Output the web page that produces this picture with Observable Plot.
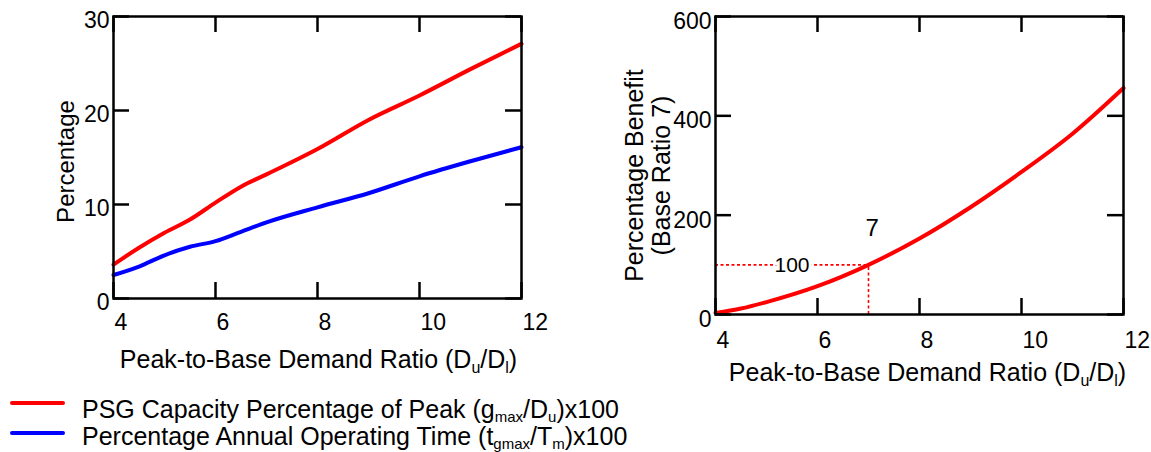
<!DOCTYPE html>
<html>
<head>
<meta charset="utf-8">
<script src="https://cdn.jsdelivr.net/npm/d3@7"></script>
<script src="https://cdn.jsdelivr.net/npm/@observablehq/plot@0.6"></script>
<style>
  html, body { margin: 0; padding: 0; background: #fff; }
  #root { position: relative; width: 1151px; height: 452px; overflow: hidden; font-family: 'Liberation Sans', Arial, Helvetica, sans-serif; }
  .panel { position: absolute; top: 0; }
  .legend { position: absolute; left: 0; top: 0; font-size: 25px; line-height: 24px; color: #000; }
  .legend .sw { position: absolute; left: 10px; width: 55px; height: 4px; border-radius: 2px; }
  .legend .lab { position: absolute; left: 82px; white-space: nowrap; }
  .legend sub { font-size: 15px; vertical-align: -4px; line-height: 0; }
</style>
</head>
<body>
<div id="root">
  <div id="left" class="panel" style="left:0px"></div>
  <div id="right" class="panel" style="left:580px"></div>
  <div class="legend" id="legend"></div>
</div>
<script>
// ---- Data ----
const ratioLeft = [4, 4.5, 5, 5.5, 6, 6.5, 7, 8, 9, 10, 11, 12];
const psgCapacity = [3.6, 5.4, 7.0, 8.4, 10.2, 11.9, 13.2, 15.9, 19.0, 21.6, 24.4, 27.1];
const operatingTime = [2.5, 3.4, 4.6, 5.5, 6.1, 7.1, 8.1, 9.7, 11.2, 13.0, 14.6, 16.1];

const ratioRight = [4, 4.5, 5, 6, 7, 8, 9, 10, 11, 12];
const benefit = [3, 12, 25, 57, 100, 153, 216, 287, 364, 456];

const xTicks = [4, 6, 8, 10, 12];
const yTicksLeft = [0, 10, 20, 30];
const yTicksRight = [0, 200, 400, 600];

const seriesNames = [
  "PSG Capacity Percentage of Peak (g_max/D_u)x100",
  "Percentage Annual Operating Time (t_gmax/T_m)x100"
];
const seriesColors = ["#ff0000", "#0000ff"];

const xLabel = "Peak-to-Base Demand Ratio (D_u/D_l)";
const yLabelLeft = "Percentage";
const yLabelRight = "Percentage Benefit\n(Base Ratio 7)";

const baseRatio = 7;
const baseBenefit = 100;
const annotations = [
  {x: 7.07, y: 173, text: "7", size: 24},
  {x: 5.5, y: 100, text: "100", size: 21}
];

// ---- helpers ----
const FONT = "'Liberation Sans', Arial, Helvetica, sans-serif";
const leftRows = ratioLeft.map((r, i) => ({ratio: r, red: psgCapacity[i], blue: operatingTime[i]}));
const rightRows = ratioRight.map((r, i) => ({ratio: r, benefit: benefit[i]}));

function inwardTicks(fw, fh, yTicks, len) {
  const st = {stroke: "black", strokeWidth: 2.5};
  return [
    Plot.tickX(xTicks, {x: d => d, insetTop: fh - len, ...st}),
    Plot.tickX(xTicks, {x: d => d, insetBottom: fh - len, ...st}),
    Plot.tickY(yTicks, {y: d => d, insetRight: fw - len, ...st}),
    Plot.tickY(yTicks, {y: d => d, insetLeft: fw - len, ...st})
  ];
}

// Replace "_x" markers inside SVG text with subscript tspans
function subscriptify(svg, size, subSize) {
  d3.select(svg).selectAll("text").each(function() {
    const t = this;
    if (t.querySelector("tspan")) return;
    const s = t.textContent;
    if (!s.includes("_")) return;
    const parts = s.split(/(_[a-z]+)/);
    t.textContent = "";
    let sub = false;
    parts.forEach(p => {
      if (!p) return;
      const ts = document.createElementNS("http://www.w3.org/2000/svg", "tspan");
      if (p.startsWith("_")) {
        ts.textContent = p.slice(1);
        ts.setAttribute("font-size", subSize);
        ts.setAttribute("dy", sub ? 0 : 5);
        sub = true;
      } else {
        ts.textContent = p;
        ts.setAttribute("font-size", size);
        ts.setAttribute("dy", sub ? -5 : 0);
        sub = false;
      }
      t.appendChild(ts);
    });
  });
}

// ---- Left chart ----
{
  const W = 560, H = 390, mL = 113, mR = 39, mT = 16, mB = 92;
  const fw = W - mL - mR, fh = H - mT - mB;
  const chart = Plot.plot({
    width: W, height: H,
    marginLeft: mL, marginRight: mR, marginTop: mT, marginBottom: mB,
    style: {fontFamily: FONT, fontSize: "22px", background: "transparent", overflow: "visible", color: "black"},
    x: {domain: [4, 12]},
    y: {domain: [0, 30]},
    marks: [
      Plot.line(leftRows, {x: "ratio", y: "red", stroke: seriesColors[0], strokeWidth: 4, curve: "monotone-x"}),
      Plot.line(leftRows, {x: "ratio", y: "blue", stroke: seriesColors[1], strokeWidth: 4, curve: "monotone-x"}),
      ...inwardTicks(fw, fh, yTicksLeft, 16),
      Plot.frame({stroke: "black", strokeWidth: 2.5}),
      Plot.axisX({ticks: xTicks, tickSize: 0, tickPadding: 15, fontSize: 23, textAnchor: "start", dx: 1, label: null, tickFormat: d => String(d)}),
      Plot.axisY({ticks: yTicksLeft, tickSize: 0, tickPadding: 4, fontSize: 23, dy: 4, label: null, tickFormat: d => String(d)}),
      Plot.text([xLabel], {text: d => d, frameAnchor: "bottom", textAnchor: "middle", lineAnchor: "bottom", dy: 69, dx: 1, fontSize: 25, fill: "black"}),
      Plot.text([yLabelLeft], {text: d => d, frameAnchor: "left", textAnchor: "middle", rotate: -90, lineAnchor: "bottom", dx: -40, dy: 4, fontSize: 24, fill: "black"})
    ]
  });
  document.getElementById("left").appendChild(chart);
  subscriptify(chart, 25, 16);
}

// ---- Right chart ----
{
  const W = 571, H = 400, mL = 135, mR = 28, mT = 16, mB = 86;
  const fw = W - mL - mR, fh = H - mT - mB;
  const chart = Plot.plot({
    width: W, height: H,
    marginLeft: mL, marginRight: mR, marginTop: mT, marginBottom: mB,
    style: {fontFamily: FONT, fontSize: "22px", background: "transparent", overflow: "visible", color: "black"},
    x: {domain: [4, 12]},
    y: {domain: [0, 600]},
    marks: [
      Plot.ruleY([baseBenefit], {x1: 4, x2: baseRatio, stroke: "#ff0000", strokeWidth: 1.6, strokeDasharray: "3,2.5"}),
      Plot.ruleX([baseRatio], {y1: 0, y2: baseBenefit, stroke: "#ff0000", strokeWidth: 1.6, strokeDasharray: "3,2.5"}),
      Plot.line(rightRows, {x: "ratio", y: "benefit", stroke: seriesColors[0], strokeWidth: 4, curve: "monotone-x"}),
      ...inwardTicks(fw, fh, yTicksRight, 16),
      Plot.frame({stroke: "black", strokeWidth: 2.5}),
      Plot.text(annotations, {x: "x", y: "y", text: "text", fontSize: d => d.size, fill: "black", stroke: "white", strokeWidth: 6, paintOrder: "stroke", lineAnchor: "middle"}),
      Plot.axisX({ticks: xTicks, tickSize: 0, tickPadding: 17, fontSize: 23, textAnchor: "start", dx: 1, label: null, tickFormat: d => String(d)}),
      Plot.axisY({ticks: yTicksRight, tickSize: 0, tickPadding: 4, fontSize: 23, dy: 5, label: null, tickFormat: d => String(d)}),
      Plot.text([xLabel], {text: d => d, frameAnchor: "bottom", textAnchor: "middle", lineAnchor: "bottom", dy: 66, dx: 8, fontSize: 25, fill: "black"}),
      Plot.text([yLabelRight], {text: d => d, frameAnchor: "left", textAnchor: "middle", rotate: -90, lineAnchor: "bottom", lineHeight: 1.08, dx: -46, dy: 10, fontSize: 25, fill: "black"})
    ]
  });
  document.getElementById("right").appendChild(chart);
  subscriptify(chart, 25, 16);
}

// ---- Legend (below left chart) ----
{
  const lg = document.getElementById("legend");
  const swTops = [401, 431];
  const labTops = [397, 424];
  seriesNames.forEach((name, i) => {
    const sw = document.createElement("div");
    sw.className = "sw";
    sw.style.top = swTops[i] + "px";
    sw.style.background = seriesColors[i];
    lg.appendChild(sw);
    const label = document.createElement("div");
    label.className = "lab";
    label.style.top = labTops[i] + "px";
    label.innerHTML = name.replace(/_([a-z]+)/g, "<sub>$1</sub>");
    lg.appendChild(label);
  });
}
</script>
</body>
</html>
